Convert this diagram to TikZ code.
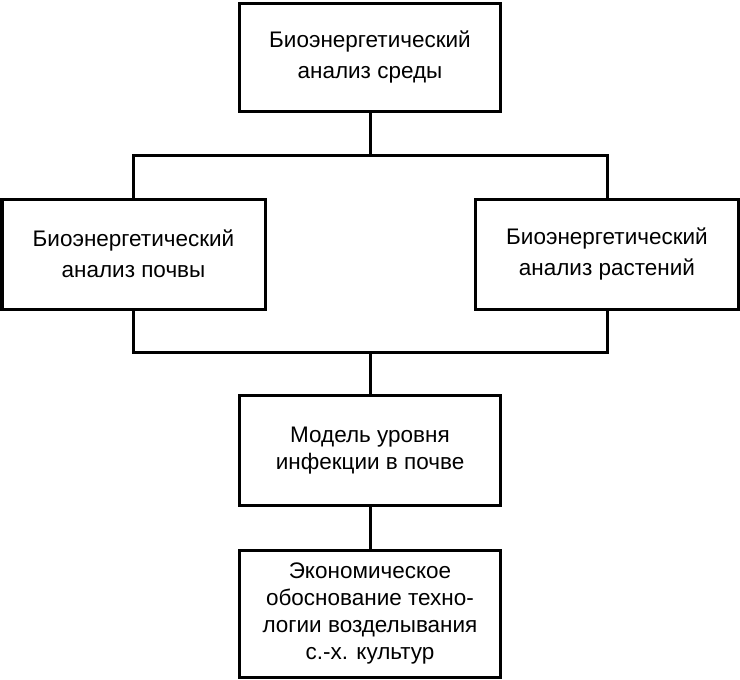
\documentclass[tikz,border=0pt]{standalone}
\usepackage{fontspec}
\setmainfont{Liberation Sans}
\begin{document}
\begin{tikzpicture}[x=1pt,y=-1pt,
  blk/.style={draw=black,line width=3pt,minimum width=261pt,inner sep=0pt,align=center,font=\fontsize{22.5}{31}\selectfont},
  blk2/.style={blk,font=\fontsize{22.5}{26.7}\selectfont},
  conn/.style={line width=3pt}]
\useasboundingbox (0,0) rectangle (740,680);
\node[blk,minimum height=108pt] (top) at (370,57) {Биоэнергетический\\анализ среды};
\node[blk,minimum width=263pt,minimum height=110pt] (left) at (133.5,254) {Биоэнергетический\\анализ почвы};
\node[blk,minimum width=263pt,minimum height=110pt] (right) at (607,254) {Биоэнергетический\\анализ растений};
\node[blk2,minimum height=110pt] (mid) at (370,450.5) {Модель уровня\\инфекции в почве};
\node[blk2,minimum height=127pt] (bot) at (370,613.5) {Экономическое\\обоснование техно-\\логии возделывания\\с.-х. культур};
\coordinate (j1) at (370,155);
\coordinate (j2) at (370,352);
\draw[conn] (top.south) -- (j1);
\draw[conn] (left.north) |- (j1) -| (right.north);
\draw[conn] (left.south) |- (j2) -| (right.south);
\draw[conn] (j2) -- (mid.north);
\draw[conn] (mid.south) -- (bot.north);
\end{tikzpicture}
\end{document}
